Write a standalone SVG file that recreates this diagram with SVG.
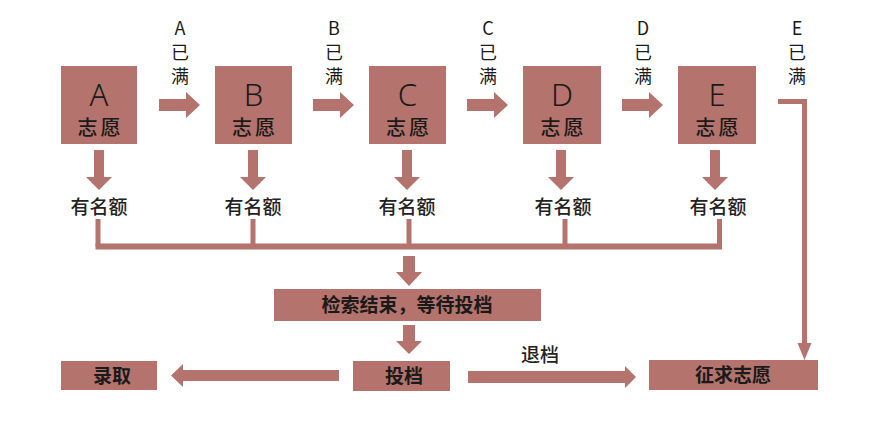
<svg xmlns="http://www.w3.org/2000/svg" width="870" height="426" viewBox="0 0 870 426">
<defs>
<style>
.box{fill:#b4736c;}
.arr{fill:#b4736c;}
.ln{stroke:#b4736c;fill:none;}
.big{font-family:"Noto Sans","Liberation Sans",sans-serif;font-size:31px;fill:#1a1a1a;text-anchor:middle;font-weight:300;}
.zy{font-family:"Noto Sans CJK SC",sans-serif;font-size:20px;fill:#1a1a1a;text-anchor:middle;font-weight:500;letter-spacing:3px;}
.lab{font-family:"Noto Sans CJK SC",sans-serif;font-size:18px;fill:#1a1a1a;text-anchor:middle;font-weight:400;}
.ym{font-family:"Noto Sans CJK SC",sans-serif;font-size:19px;fill:#222;text-anchor:middle;font-weight:500;}
.bt{font-family:"Noto Sans CJK SC",sans-serif;font-size:19px;fill:#1a1a1a;text-anchor:middle;font-weight:700;}
</style>
</defs>
<rect width="870" height="426" fill="#fff"/>

<g id="connectors">
<path class="arr" d="M159,99 H186 V92 L200,105 L186,118 V111 H159 Z"/>
<path class="arr" d="M313,99 H340 V92 L354,105 L340,118 V111 H313 Z"/>
<path class="arr" d="M467,99 H494 V92 L508,105 L494,118 V111 H467 Z"/>
<path class="arr" d="M622,99 H649 V92 L663,105 L649,118 V111 H622 Z"/>
<path class="arr" d="M94,150 H104 V177 H112 L99,190 L86,177 H94 Z"/>
<path class="arr" d="M248,150 H258 V177 H266 L253,190 L240,177 H248 Z"/>
<path class="arr" d="M402,150 H412 V177 H420 L407,190 L394,177 H402 Z"/>
<path class="arr" d="M556,150 H566 V177 H574 L561,190 L548,177 H556 Z"/>
<path class="arr" d="M710,150 H720 V177 H728 L715,190 L702,177 H710 Z"/>
<path class="ln" stroke-width="5" d="M98,219 V246.5 M253,219 V246.5 M409,219 V246.5 M565,219 V246.5 M719.5,219 V246.5"/>
<path class="ln" stroke-width="6" d="M95.5,246.5 H722"/>
<path class="arr" d="M403,256 H415 V272 H422 L409,286 L396,272 H403 Z"/>
<path class="arr" d="M403,325 H415 V341 H422 L409,354 L396,341 H403 Z"/>
<path class="arr" d="M339,370 H183 V364 L171,375.5 L183,387 V381 H339 Z"/>
<path class="arr" d="M468,371 H625 V366 L636,377 L625,388 V383 H468 Z"/>
<path class="ln" stroke-width="5" d="M778,101.5 H804.5 V345"/>
<path class="arr" d="M797.5,343 H811.5 L804.5,360 Z"/>
</g>

<g id="nodeA"><rect class="box" x="61" y="66" width="76" height="78"/><text class="big" x="99" y="106">A</text><text class="zy" x="100.5" y="135">志愿</text></g>
<g id="nodeB"><rect class="box" x="215" y="66" width="77" height="78"/><text class="big" x="253.5" y="106">B</text><text class="zy" x="255" y="135">志愿</text></g>
<g id="nodeC"><rect class="box" x="369" y="66" width="77" height="78"/><text class="big" x="407.5" y="106">C</text><text class="zy" x="409" y="135">志愿</text></g>
<g id="nodeD"><rect class="box" x="523" y="66" width="78" height="78"/><text class="big" x="562" y="106">D</text><text class="zy" x="563.5" y="135">志愿</text></g>
<g id="nodeE"><rect class="box" x="678" y="66" width="78" height="78"/><text class="big" x="717" y="106">E</text><text class="zy" x="718.5" y="135">志愿</text></g>

<g id="labels-full">
<text class="lab" x="180" y="35">A</text><text class="lab" x="180" y="59">已</text><text class="lab" x="180" y="83">满</text>
<text class="lab" x="334" y="35">B</text><text class="lab" x="334" y="59">已</text><text class="lab" x="334" y="83">满</text>
<text class="lab" x="488" y="35">C</text><text class="lab" x="488" y="59">已</text><text class="lab" x="488" y="83">满</text>
<text class="lab" x="643" y="35">D</text><text class="lab" x="643" y="59">已</text><text class="lab" x="643" y="83">满</text>
<text class="lab" x="797" y="35">E</text><text class="lab" x="797" y="59">已</text><text class="lab" x="797" y="83">满</text>
</g>

<g id="quota">
<text class="ym" x="99" y="214">有名额</text>
<text class="ym" x="253" y="214">有名额</text>
<text class="ym" x="407" y="214">有名额</text>
<text class="ym" x="563" y="214">有名额</text>
<text class="ym" x="718" y="214">有名额</text>
</g>

<g id="search"><rect class="box" x="274" y="289" width="267" height="32"/><text class="bt" x="407" y="312">检索结束，等待投档</text></g>
<g id="toudang"><rect class="box" x="353" y="361" width="97" height="30"/><text class="bt" x="404" y="383">投档</text></g>
<g id="luqu"><rect class="box" x="61" y="361" width="96" height="29"/><text class="bt" x="112" y="383">录取</text></g>
<g id="zhengqiu"><rect class="box" x="649" y="360" width="169" height="30"/><text class="bt" x="733" y="382">征求志愿</text></g>
<g id="tuidang-label"><text class="ym" x="540" y="362">退档</text></g>
</svg>
